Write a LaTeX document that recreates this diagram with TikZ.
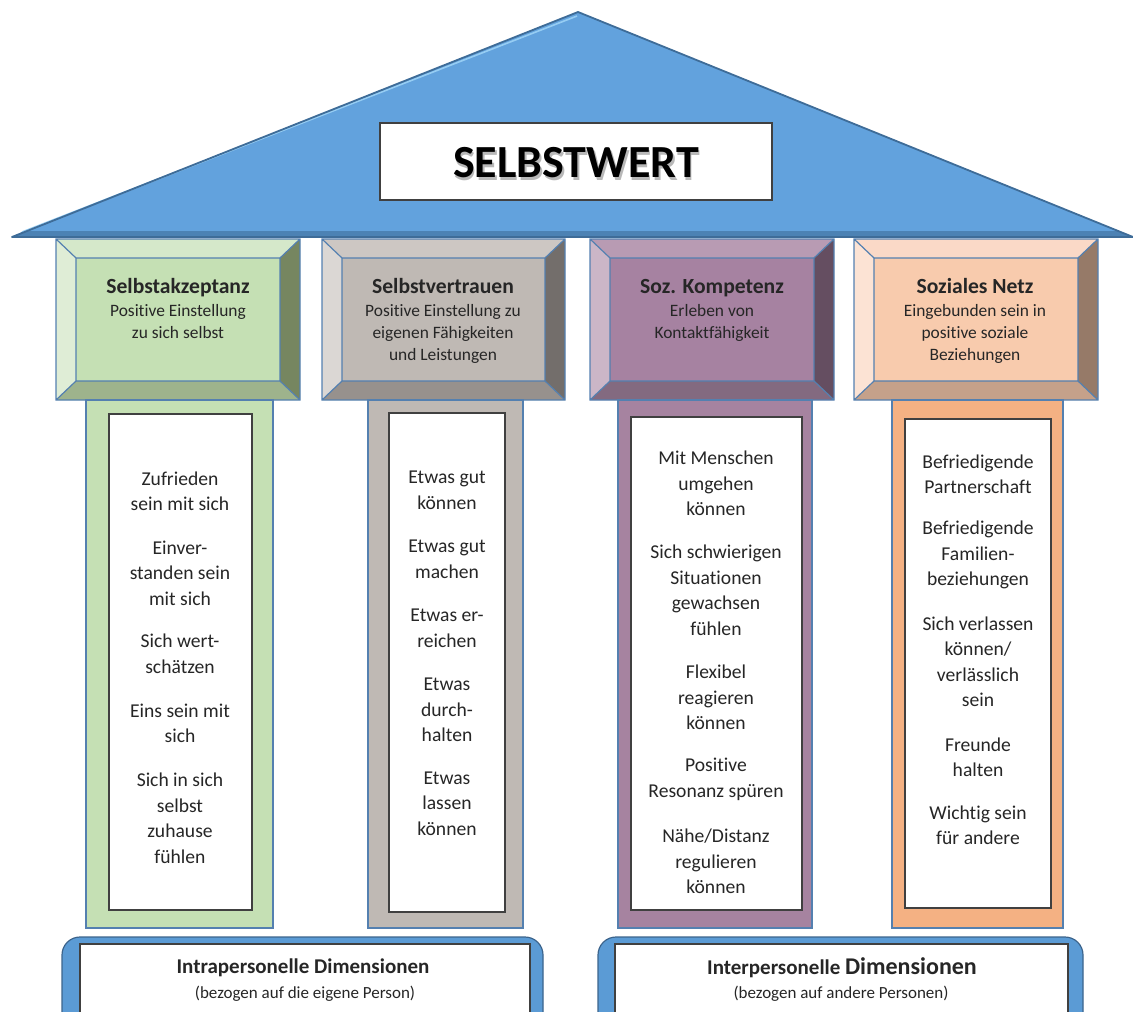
\documentclass[tikz,border=0pt]{standalone}
\usepackage{fontspec}
\setmainfont{Carlito}[Ligatures={NoCommon}]
\usepackage{tikz}
\usetikzlibrary{positioning}
\definecolor{roofBlue}{RGB}{98,162,221}
\definecolor{roofEdge}{RGB}{62,108,152}
\definecolor{roofLight}{RGB}{150,205,243}
\definecolor{pillarLine}{RGB}{84,128,176}
\definecolor{baseBlue}{RGB}{91,155,213}
\definecolor{baseEdge}{RGB}{60,100,140}
\definecolor{grnFace}{RGB}{197,224,180}
\definecolor{grnTop}{RGB}{213,232,202}
\definecolor{grnLeft}{RGB}{223,237,214}
\definecolor{grnRight}{RGB}{118,134,96}
\definecolor{grnBottom}{RGB}{158,179,140}
\definecolor{grnShaft}{RGB}{197,224,180}
\definecolor{graFace}{RGB}{191,185,180}
\definecolor{graTop}{RGB}{205,199,195}
\definecolor{graLeft}{RGB}{219,215,212}
\definecolor{graRight}{RGB}{115,110,107}
\definecolor{graBottom}{RGB}{151,145,141}
\definecolor{graShaft}{RGB}{191,185,180}
\definecolor{purFace}{RGB}{166,130,161}
\definecolor{purTop}{RGB}{184,155,179}
\definecolor{purLeft}{RGB}{203,182,199}
\definecolor{purRight}{RGB}{101,78,97}
\definecolor{purBottom}{RGB}{131,106,128}
\definecolor{purShaft}{RGB}{166,131,160}
\definecolor{pchFace}{RGB}{248,203,173}
\definecolor{pchTop}{RGB}{250,217,199}
\definecolor{pchLeft}{RGB}{252,227,212}
\definecolor{pchRight}{RGB}{150,122,104}
\definecolor{pchBottom}{RGB}{197,161,138}
\definecolor{pchShaft}{RGB}{244,177,131}
\tikzstyle{pillarline} = [draw=pillarLine, line width=0.6pt]
\tikzstyle{whitebox} = [draw=black!75, line width=0.7pt, fill=white]
\tikzstyle{captitle} = [font={\fontsize{10.8}{13}\selectfont\bfseries}, text=black!85, inner sep=0pt, text height=7.6pt, text depth=2.4pt]
\tikzstyle{capsub} = [font={\fontsize{8.7}{11}\selectfont}, align=center, text=black!85, inner sep=0pt]
\tikzstyle{item} = [font={\fontsize{9.8}{12.75}\selectfont}, align=center, text=black!85, inner sep=0pt]
\tikzstyle{basetitle} = [font={\fontsize{10.5}{12}\selectfont\bfseries}, text=black!85, inner sep=0pt]
\tikzstyle{basesub} = [font={\fontsize{8.5}{10}\selectfont}, text=black!85, inner sep=0pt]
\newcommand\pillarcap[3]{%
  \fill[#3Top] (#1,239) -- (#2,239) -- ({#2-20},258) -- ({#1+20},258) -- cycle;
  \fill[#3Left] (#1,239) -- ({#1+20},258) -- ({#1+20},381) -- (#1,400) -- cycle;
  \fill[#3Right] (#2,239) -- (#2,400) -- ({#2-20},381) -- ({#2-20},258) -- cycle;
  \fill[#3Bottom] (#1,400) -- ({#1+20},381) -- ({#2-20},381) -- (#2,400) -- cycle;
  \fill[#3Face] ({#1+20},258) rectangle ({#2-20},381);
  \draw[pillarline] (#1,239) rectangle (#2,400) ({#1+20},258) rectangle ({#2-20},381)
    (#1,239) -- ({#1+20},258) (#2,239) -- ({#2-20},258)
    (#1,400) -- ({#1+20},381) (#2,400) -- ({#2-20},381);
}

\begin{document}
\begin{tikzpicture}[x=0.5pt, y=-0.5pt]
  \useasboundingbox (0,0) rectangle (1133,1011);

  % roof
  \fill[roofBlue] (12,237) -- (578,12) -- (1133,237) -- cycle;
  \fill[roofEdge!60!roofBlue] (24,231) -- (1119,231) -- (1133,237) -- (12,237) -- cycle;
  \draw[roofLight, line width=0.8pt] (22,232) -- (577,16);
  \draw[roofEdge, line width=0.9pt, line join=round] (12,237) -- (578,12) -- (1133,237) -- cycle;
  \draw[whitebox] (380,123) rectangle (772,200);
  \node[font={\fontsize{23}{26}\selectfont\bfseries}, text=black!28, inner sep=0pt] (shadow) at (577.5,165.5) {SELBSTWERT};
  \node[font={\fontsize{23}{26}\selectfont\bfseries}, inner sep=0pt] (selbstwert) at (576,163) {SELBSTWERT};

  % capitals
  \pillarcap{56}{300}{grn}
  \pillarcap{322}{565}{gra}
  \pillarcap{590}{834}{pur}
  \pillarcap{854}{1098}{pch}

  \node[captitle] (tAkz) at (178,288) {Selbstakzeptanz};
  \node[capsub, below=3pt of tAkz] (sAkz) {Positive Einstellung\\zu sich selbst};
  \node[captitle] (tVer) at (443,288) {Selbstvertrauen};
  \node[capsub, below=3pt of tVer] (sVer) {Positive Einstellung zu\\eigenen Fähigkeiten\\und Leistungen};
  \node[captitle] (tKom) at (712,288) {Soz. Kompetenz};
  \node[capsub, below=3pt of tKom] (sKom) {Erleben von\\Kontaktfähigkeit};
  \node[captitle] (tNet) at (975,288) {Soziales Netz};
  \node[capsub, below=3pt of tNet] (sNet) {Eingebunden sein in\\positive soziale\\Beziehungen};

  % shafts
  \draw[pillarline, fill=grnShaft] (86,400) rectangle (273,928);
  \draw[whitebox] (109,414) rectangle (252,910);
  \draw[pillarline, fill=graShaft] (368,400) rectangle (523,928);
  \draw[whitebox] (389,413) rectangle (505,912);
  \draw[pillarline, fill=purShaft] (618,400) rectangle (812,928);
  \draw[whitebox] (631,417) rectangle (802,910);
  \draw[pillarline, fill=pchShaft] (892,400) rectangle (1063,928);
  \draw[whitebox] (905,419) rectangle (1051,908);

  \node[item] (akz1) at (180,491.5) {Zufrieden\\sein mit sich};
  \node[item] (akz2) at (180,573) {Einver-\\standen sein\\mit sich};
  \node[item] (akz3) at (180,654) {Sich wert-\\schätzen};
  \node[item] (akz4) at (180,723.5) {Eins sein mit\\sich};
  \node[item] (akz5) at (180,818.5) {Sich in sich\\selbst\\zuhause\\fühlen};

  \node[item] (ver1) at (447,490.5) {Etwas gut\\können};
  \node[item] (ver2) at (447,559.5) {Etwas gut\\machen};
  \node[item] (ver3) at (447,628.5) {Etwas er-\\reichen};
  \node[item] (ver4) at (447,710) {Etwas\\durch-\\halten};
  \node[item] (ver5) at (447,803.5) {Etwas\\lassen\\können};

  \node[item] (kom1) at (716,483.5) {Mit Menschen\\umgehen\\können};
  \node[item] (kom2) at (716,590.5) {Sich schwierigen\\Situationen\\gewachsen\\fühlen};
  \node[item] (kom3) at (716,697.5) {Flexibel\\reagieren\\können};
  \node[item] (kom4) at (716,779.5) {Positive\\Resonanz spüren};
  \node[item] (kom5) at (716,861.5) {Nähe/Distanz\\regulieren\\können};

  \node[item] (net1) at (978,474.5) {Befriedigende\\Partnerschaft};
  \node[item] (net2) at (978,555) {Befriedigende\\Familien-\\beziehungen};
  \node[item] (net3) at (978,662) {Sich verlassen\\können/\\verlässlich\\sein};
  \node[item] (net4) at (978,757.5) {Freunde\\halten};
  \node[item] (net5) at (978,825.5) {Wichtig sein\\für andere};

  % base
  \draw[draw=baseEdge, fill=baseBlue, line width=0.6pt, rounded corners=9pt] (62,937) rectangle (543,1040);
  \draw[whitebox] (80,944) rectangle (530,1040);
  \draw[draw=baseEdge, fill=baseBlue, line width=0.6pt, rounded corners=9pt] (598,937) rectangle (1083,1040);
  \draw[whitebox] (615,944) rectangle (1068,1040);

  \node[basetitle] (intra) at (303,968) {Intrapersonelle Dimensionen};
  \node[basesub] (intraSub) at (305,994) {(bezogen auf die eigene Person)};
  \node[basetitle] (inter) at (842,968) {Interpersonelle {\fontsize{12}{14}\selectfont Dimensionen}};
  \node[basesub] (interSub) at (841,994) {(bezogen auf andere Personen)};
\end{tikzpicture}
\end{document}
